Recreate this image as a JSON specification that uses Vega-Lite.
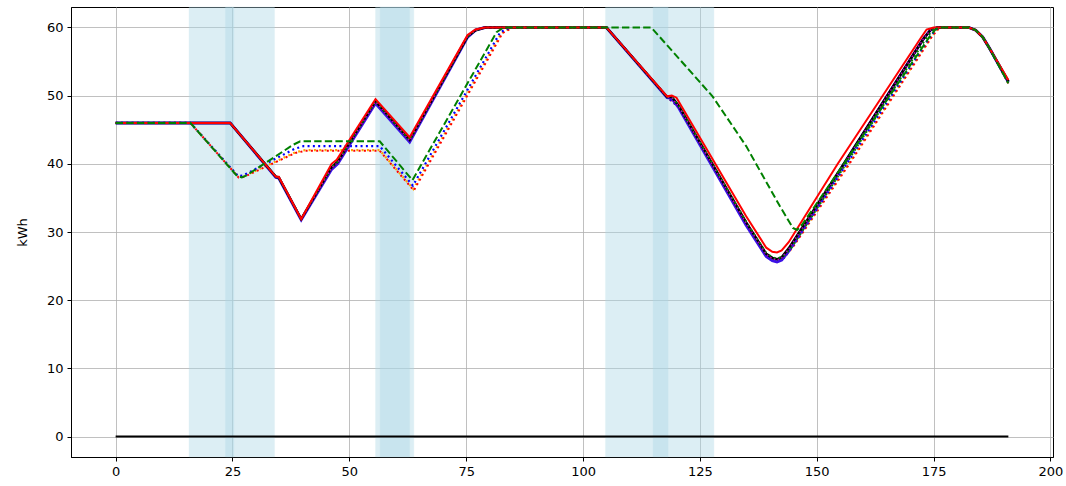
{
  "$schema": "https://vega.github.io/schema/vega-lite/v6.json",
  "width": 982,
  "height": 450,
  "autosize": {"type": "none"},
  "padding": {"left": 71, "top": 7, "right": 13, "bottom": 29},
  "background": "white",
  "datasets": {
    "spans": [
      {"x0": 15.7, "x1": 25.3},
      {"x0": 23.5, "x1": 34.0},
      {"x0": 55.6, "x1": 62.9},
      {"x0": 56.6, "x1": 63.8},
      {"x0": 104.8, "x1": 118.2},
      {"x0": 115.0, "x1": 128.0}
    ],
    "lines": [
      {"s": "zero", "x": 0, "y": 0}, {"s": "zero", "x": 191, "y": 0},

      {"s": "B_orange", "x": 0, "y": 46}, {"s": "B_orange", "x": 16, "y": 46}, {"s": "B_orange", "x": 26.3, "y": 38.1}, {"s": "B_orange", "x": 27.5, "y": 38.2}, {"s": "B_orange", "x": 38.5, "y": 41.7}, {"s": "B_orange", "x": 40.5, "y": 42.0}, {"s": "B_orange", "x": 56.5, "y": 42.0}, {"s": "B_orange", "x": 63.7, "y": 36.3}, {"s": "B_orange", "x": 82.6, "y": 59.2}, {"s": "B_orange", "x": 84.8, "y": 60}, {"s": "B_orange", "x": 105, "y": 60}, {"s": "B_orange", "x": 118, "y": 49.8}, {"s": "B_orange", "x": 120.5, "y": 48.3}, {"s": "B_orange", "x": 134.9, "y": 31.2}, {"s": "B_orange", "x": 139.2, "y": 26.6}, {"s": "B_orange", "x": 141.5, "y": 25.9}, {"s": "B_orange", "x": 143, "y": 26.2}, {"s": "B_orange", "x": 145, "y": 28.0}, {"s": "B_orange", "x": 156.8, "y": 40.0}, {"s": "B_orange", "x": 174.5, "y": 58.6}, {"s": "B_orange", "x": 175.8, "y": 59.7}, {"s": "B_orange", "x": 176.8, "y": 60}, {"s": "B_orange", "x": 182.5, "y": 60}, {"s": "B_orange", "x": 184, "y": 59.6}, {"s": "B_orange", "x": 185.5, "y": 58.6}, {"s": "B_orange", "x": 187, "y": 56.9}, {"s": "B_orange", "x": 191, "y": 51.8},

      {"s": "B_red", "x": 0, "y": 46}, {"s": "B_red", "x": 16, "y": 46}, {"s": "B_red", "x": 26.3, "y": 38.0}, {"s": "B_red", "x": 27.5, "y": 38.1}, {"s": "B_red", "x": 38.5, "y": 41.6}, {"s": "B_red", "x": 40.5, "y": 41.9}, {"s": "B_red", "x": 56.5, "y": 41.9}, {"s": "B_red", "x": 63.8, "y": 36.1}, {"s": "B_red", "x": 82.8, "y": 59.2}, {"s": "B_red", "x": 85.0, "y": 60}, {"s": "B_red", "x": 105, "y": 60}, {"s": "B_red", "x": 118, "y": 49.8}, {"s": "B_red", "x": 120.5, "y": 48.3}, {"s": "B_red", "x": 134.9, "y": 31.2}, {"s": "B_red", "x": 139.2, "y": 26.6}, {"s": "B_red", "x": 141.5, "y": 25.9}, {"s": "B_red", "x": 143, "y": 26.2}, {"s": "B_red", "x": 145, "y": 27.9}, {"s": "B_red", "x": 157.0, "y": 40.0}, {"s": "B_red", "x": 174.6, "y": 58.6}, {"s": "B_red", "x": 175.9, "y": 59.7}, {"s": "B_red", "x": 176.9, "y": 60}, {"s": "B_red", "x": 182.5, "y": 60}, {"s": "B_red", "x": 184, "y": 59.6}, {"s": "B_red", "x": 185.5, "y": 58.6}, {"s": "B_red", "x": 187, "y": 56.9}, {"s": "B_red", "x": 191, "y": 51.8},

      {"s": "B_blue", "x": 0, "y": 46}, {"s": "B_blue", "x": 16, "y": 46}, {"s": "B_blue", "x": 26.2, "y": 38.2}, {"s": "B_blue", "x": 27.3, "y": 38.3}, {"s": "B_blue", "x": 38.3, "y": 42.2}, {"s": "B_blue", "x": 40.2, "y": 42.6}, {"s": "B_blue", "x": 56.5, "y": 42.6}, {"s": "B_blue", "x": 63.6, "y": 36.8}, {"s": "B_blue", "x": 82.3, "y": 59.3}, {"s": "B_blue", "x": 84.4, "y": 60}, {"s": "B_blue", "x": 105, "y": 60}, {"s": "B_blue", "x": 118, "y": 49.8}, {"s": "B_blue", "x": 120.5, "y": 48.3}, {"s": "B_blue", "x": 134.9, "y": 31.2}, {"s": "B_blue", "x": 139.2, "y": 26.6}, {"s": "B_blue", "x": 141.5, "y": 25.9}, {"s": "B_blue", "x": 143, "y": 26.2}, {"s": "B_blue", "x": 145, "y": 28.1}, {"s": "B_blue", "x": 156.4, "y": 40.0}, {"s": "B_blue", "x": 174.2, "y": 58.6}, {"s": "B_blue", "x": 175.5, "y": 59.7}, {"s": "B_blue", "x": 176.5, "y": 60}, {"s": "B_blue", "x": 182.5, "y": 60}, {"s": "B_blue", "x": 184, "y": 59.6}, {"s": "B_blue", "x": 185.5, "y": 58.6}, {"s": "B_blue", "x": 187, "y": 56.9}, {"s": "B_blue", "x": 191, "y": 51.9},

      {"s": "A_blue", "x": 0, "y": 46}, {"s": "A_blue", "x": 24.5, "y": 46}, {"s": "A_blue", "x": 34.3, "y": 38.0}, {"s": "A_blue", "x": 34.9, "y": 37.9}, {"s": "A_blue", "x": 39.7, "y": 31.8}, {"s": "A_blue", "x": 46.2, "y": 39.2}, {"s": "A_blue", "x": 47.5, "y": 40.0}, {"s": "A_blue", "x": 55.6, "y": 48.9}, {"s": "A_blue", "x": 62.9, "y": 43.2}, {"s": "A_blue", "x": 75.3, "y": 58.6}, {"s": "A_blue", "x": 77, "y": 59.6}, {"s": "A_blue", "x": 79, "y": 60}, {"s": "A_blue", "x": 105, "y": 60}, {"s": "A_blue", "x": 118, "y": 49.7}, {"s": "A_blue", "x": 119, "y": 49.6}, {"s": "A_blue", "x": 120.5, "y": 48.2}, {"s": "A_blue", "x": 134.9, "y": 31.0}, {"s": "A_blue", "x": 139.2, "y": 26.4}, {"s": "A_blue", "x": 140.5, "y": 25.8}, {"s": "A_blue", "x": 141.5, "y": 25.6}, {"s": "A_blue", "x": 142.5, "y": 25.9}, {"s": "A_blue", "x": 144, "y": 27.2}, {"s": "A_blue", "x": 155.5, "y": 39.6}, {"s": "A_blue", "x": 172.8, "y": 58.3}, {"s": "A_blue", "x": 174.3, "y": 59.6}, {"s": "A_blue", "x": 175.8, "y": 60}, {"s": "A_blue", "x": 182.5, "y": 60}, {"s": "A_blue", "x": 184, "y": 59.6}, {"s": "A_blue", "x": 185.5, "y": 58.6}, {"s": "A_blue", "x": 187, "y": 56.9}, {"s": "A_blue", "x": 191, "y": 52.0},

      {"s": "A_black", "x": 0, "y": 46}, {"s": "A_black", "x": 24.5, "y": 46}, {"s": "A_black", "x": 34.3, "y": 38.1}, {"s": "A_black", "x": 34.9, "y": 38.0}, {"s": "A_black", "x": 39.7, "y": 31.9}, {"s": "A_black", "x": 46.2, "y": 39.5}, {"s": "A_black", "x": 47.5, "y": 40.3}, {"s": "A_black", "x": 55.6, "y": 49.2}, {"s": "A_black", "x": 62.9, "y": 43.5}, {"s": "A_black", "x": 75.3, "y": 58.7}, {"s": "A_black", "x": 77, "y": 59.6}, {"s": "A_black", "x": 79, "y": 60}, {"s": "A_black", "x": 105, "y": 60}, {"s": "A_black", "x": 118, "y": 49.8}, {"s": "A_black", "x": 119, "y": 49.8}, {"s": "A_black", "x": 120.5, "y": 48.5}, {"s": "A_black", "x": 134.9, "y": 31.4}, {"s": "A_black", "x": 139.2, "y": 26.8}, {"s": "A_black", "x": 140.5, "y": 26.2}, {"s": "A_black", "x": 141.5, "y": 26.0}, {"s": "A_black", "x": 142.5, "y": 26.3}, {"s": "A_black", "x": 144, "y": 27.6}, {"s": "A_black", "x": 155.5, "y": 39.7}, {"s": "A_black", "x": 172.8, "y": 58.3}, {"s": "A_black", "x": 174.3, "y": 59.6}, {"s": "A_black", "x": 175.8, "y": 60}, {"s": "A_black", "x": 182.5, "y": 60}, {"s": "A_black", "x": 184, "y": 59.6}, {"s": "A_black", "x": 185.5, "y": 58.6}, {"s": "A_black", "x": 187, "y": 56.9}, {"s": "A_black", "x": 191, "y": 52.1},

      {"s": "A_green", "x": 0, "y": 46}, {"s": "A_green", "x": 24.5, "y": 46}, {"s": "A_green", "x": 34.3, "y": 38.1}, {"s": "A_green", "x": 34.9, "y": 38.0}, {"s": "A_green", "x": 39.7, "y": 31.9}, {"s": "A_green", "x": 46.2, "y": 39.5}, {"s": "A_green", "x": 47.5, "y": 40.3}, {"s": "A_green", "x": 55.6, "y": 49.2}, {"s": "A_green", "x": 62.9, "y": 43.5}, {"s": "A_green", "x": 75.3, "y": 58.7}, {"s": "A_green", "x": 77, "y": 59.6}, {"s": "A_green", "x": 79, "y": 60}, {"s": "A_green", "x": 105, "y": 60}, {"s": "A_green", "x": 118, "y": 49.8}, {"s": "A_green", "x": 119, "y": 49.8}, {"s": "A_green", "x": 120.5, "y": 48.5}, {"s": "A_green", "x": 134.9, "y": 31.5}, {"s": "A_green", "x": 139.2, "y": 26.9}, {"s": "A_green", "x": 140.5, "y": 26.3}, {"s": "A_green", "x": 141.5, "y": 26.1}, {"s": "A_green", "x": 142.8, "y": 26.4}, {"s": "A_green", "x": 144.5, "y": 27.6}, {"s": "A_green", "x": 156, "y": 39.7}, {"s": "A_green", "x": 173.3, "y": 58.3}, {"s": "A_green", "x": 174.8, "y": 59.6}, {"s": "A_green", "x": 176.2, "y": 60}, {"s": "A_green", "x": 182.5, "y": 60}, {"s": "A_green", "x": 184, "y": 59.6}, {"s": "A_green", "x": 185.5, "y": 58.6}, {"s": "A_green", "x": 187, "y": 56.9}, {"s": "A_green", "x": 191, "y": 52.0},

      {"s": "A_magenta", "x": 0, "y": 46}, {"s": "A_magenta", "x": 24.5, "y": 46}, {"s": "A_magenta", "x": 34.3, "y": 38.1}, {"s": "A_magenta", "x": 34.9, "y": 38.0}, {"s": "A_magenta", "x": 39.7, "y": 31.9}, {"s": "A_magenta", "x": 46.2, "y": 39.4}, {"s": "A_magenta", "x": 47.5, "y": 40.2}, {"s": "A_magenta", "x": 55.6, "y": 49.1}, {"s": "A_magenta", "x": 62.9, "y": 43.4}, {"s": "A_magenta", "x": 75.3, "y": 58.7}, {"s": "A_magenta", "x": 77, "y": 59.6}, {"s": "A_magenta", "x": 79, "y": 60}, {"s": "A_magenta", "x": 105, "y": 60}, {"s": "A_magenta", "x": 118, "y": 49.8}, {"s": "A_magenta", "x": 119, "y": 49.7}, {"s": "A_magenta", "x": 120.5, "y": 48.4}, {"s": "A_magenta", "x": 134.9, "y": 31.3}, {"s": "A_magenta", "x": 139.2, "y": 26.7}, {"s": "A_magenta", "x": 140.5, "y": 26.1}, {"s": "A_magenta", "x": 141.5, "y": 25.9}, {"s": "A_magenta", "x": 142.5, "y": 26.2}, {"s": "A_magenta", "x": 144, "y": 27.5}, {"s": "A_magenta", "x": 155.5, "y": 39.6}, {"s": "A_magenta", "x": 172.8, "y": 58.3}, {"s": "A_magenta", "x": 174.3, "y": 59.6}, {"s": "A_magenta", "x": 175.8, "y": 60}, {"s": "A_magenta", "x": 182.5, "y": 60}, {"s": "A_magenta", "x": 184, "y": 59.6}, {"s": "A_magenta", "x": 185.5, "y": 58.6}, {"s": "A_magenta", "x": 187, "y": 56.9}, {"s": "A_magenta", "x": 191, "y": 52.1},

      {"s": "A_red", "x": 0, "y": 46}, {"s": "A_red", "x": 24.5, "y": 46}, {"s": "A_red", "x": 34.3, "y": 38.1}, {"s": "A_red", "x": 34.9, "y": 38.1}, {"s": "A_red", "x": 39.7, "y": 31.9}, {"s": "A_red", "x": 46.2, "y": 40.0}, {"s": "A_red", "x": 47.3, "y": 40.6}, {"s": "A_red", "x": 55.6, "y": 49.5}, {"s": "A_red", "x": 62.9, "y": 43.9}, {"s": "A_red", "x": 75.3, "y": 58.9}, {"s": "A_red", "x": 77, "y": 59.7}, {"s": "A_red", "x": 79, "y": 60}, {"s": "A_red", "x": 105, "y": 60}, {"s": "A_red", "x": 118, "y": 49.9}, {"s": "A_red", "x": 119, "y": 50.0}, {"s": "A_red", "x": 120, "y": 49.7}, {"s": "A_red", "x": 134.9, "y": 32.3}, {"s": "A_red", "x": 139.2, "y": 27.7}, {"s": "A_red", "x": 140.5, "y": 27.1}, {"s": "A_red", "x": 141.5, "y": 27.0}, {"s": "A_red", "x": 142.5, "y": 27.3}, {"s": "A_red", "x": 144, "y": 28.5}, {"s": "A_red", "x": 154.5, "y": 40.0}, {"s": "A_red", "x": 172.3, "y": 58.5}, {"s": "A_red", "x": 173.5, "y": 59.7}, {"s": "A_red", "x": 175, "y": 60}, {"s": "A_red", "x": 182.5, "y": 60}, {"s": "A_red", "x": 184, "y": 59.6}, {"s": "A_red", "x": 185.5, "y": 58.6}, {"s": "A_red", "x": 187, "y": 56.9}, {"s": "A_red", "x": 191, "y": 52.3},

      {"s": "B_green", "x": 0, "y": 46}, {"s": "B_green", "x": 16, "y": 46}, {"s": "B_green", "x": 26, "y": 38.2}, {"s": "B_green", "x": 27, "y": 38.0}, {"s": "B_green", "x": 28, "y": 38.3}, {"s": "B_green", "x": 38, "y": 42.8}, {"s": "B_green", "x": 39.5, "y": 43.3}, {"s": "B_green", "x": 56.5, "y": 43.3}, {"s": "B_green", "x": 63.5, "y": 37.6}, {"s": "B_green", "x": 81.5, "y": 59.3}, {"s": "B_green", "x": 83, "y": 60}, {"s": "B_green", "x": 114.6, "y": 60}, {"s": "B_green", "x": 127.7, "y": 49.9}, {"s": "B_green", "x": 134.9, "y": 42.6}, {"s": "B_green", "x": 142.1, "y": 33.8}, {"s": "B_green", "x": 144.9, "y": 30.6}, {"s": "B_green", "x": 145.8, "y": 30.3}, {"s": "B_green", "x": 147, "y": 31.2}, {"s": "B_green", "x": 156, "y": 40.2}, {"s": "B_green", "x": 174, "y": 58.5}, {"s": "B_green", "x": 175.5, "y": 59.8}, {"s": "B_green", "x": 176.5, "y": 60}, {"s": "B_green", "x": 182.5, "y": 60}, {"s": "B_green", "x": 184, "y": 59.6}, {"s": "B_green", "x": 185.5, "y": 58.6}, {"s": "B_green", "x": 187, "y": 56.9}, {"s": "B_green", "x": 191, "y": 51.8}
    ]
  },
  "layer": [
    {
      "data": {"name": "spans"},
      "mark": {"type": "rect", "fill": "#add8e6", "opacity": 0.42, "stroke": "#add8e6", "strokeWidth": 1, "strokeOpacity": 0.3},
      "encoding": {
        "x": {"field": "x0", "type": "quantitative", "scale": {"domain": [-9.55, 200.55], "nice": false, "zero": false}},
        "x2": {"field": "x1"}
      }
    },
    {
      "data": {"name": "lines"},
      "transform": [{"filter": "datum.s === 'zero'"}],
      "mark": {"type": "line", "color": "black", "strokeWidth": 2},
      "encoding": {
        "x": {"field": "x", "type": "quantitative", "scale": {"domain": [-9.55, 200.55], "nice": false, "zero": false},
              "axis": {"values": [0, 25, 50, 75, 100, 125, 150, 175, 200], "title": null, "labelFlush": false}},
        "y": {"field": "y", "type": "quantitative", "scale": {"domain": [-3, 63], "nice": false, "zero": false},
              "axis": {"values": [0, 10, 20, 30, 40, 50, 60], "title": "kWh", "titlePadding": 17}}
      }
    },
    {
      "data": {"name": "lines"},
      "transform": [{"filter": "datum.s === 'B_orange'"}],
      "mark": {"type": "line", "color": "#ffa500", "strokeWidth": 2.2, "strokeDash": [2, 3.3]},
      "encoding": {"x": {"field": "x", "type": "quantitative"}, "y": {"field": "y", "type": "quantitative"}}
    },
    {
      "data": {"name": "lines"},
      "transform": [{"filter": "datum.s === 'B_red'"}],
      "mark": {"type": "line", "color": "#ff0000", "strokeWidth": 2, "strokeDash": [2, 3.3], "strokeDashOffset": 2.5},
      "encoding": {"x": {"field": "x", "type": "quantitative"}, "y": {"field": "y", "type": "quantitative"}}
    },
    {
      "data": {"name": "lines"},
      "transform": [{"filter": "datum.s === 'B_blue'"}],
      "mark": {"type": "line", "color": "#0000ff", "strokeWidth": 2.2, "strokeDash": [2, 3.3]},
      "encoding": {"x": {"field": "x", "type": "quantitative"}, "y": {"field": "y", "type": "quantitative"}}
    },
    {
      "data": {"name": "lines"},
      "transform": [{"filter": "datum.s === 'A_blue'"}],
      "mark": {"type": "line", "color": "#3c10e6", "strokeWidth": 3},
      "encoding": {"x": {"field": "x", "type": "quantitative"}, "y": {"field": "y", "type": "quantitative"}}
    },
    {
      "data": {"name": "lines"},
      "transform": [{"filter": "datum.s === 'A_black'"}],
      "mark": {"type": "line", "color": "black", "strokeWidth": 2.5},
      "encoding": {"x": {"field": "x", "type": "quantitative"}, "y": {"field": "y", "type": "quantitative"}}
    },
    {
      "data": {"name": "lines"},
      "transform": [{"filter": "datum.s === 'A_green'"}],
      "mark": {"type": "line", "color": "#008000", "strokeWidth": 2, "strokeDash": [2, 3.3]},
      "encoding": {"x": {"field": "x", "type": "quantitative"}, "y": {"field": "y", "type": "quantitative"}}
    },
    {
      "data": {"name": "lines"},
      "transform": [{"filter": "datum.s === 'A_magenta'"}],
      "mark": {"type": "line", "color": "#bf00bf", "strokeWidth": 1.5, "strokeDash": [1.5, 2.5]},
      "encoding": {"x": {"field": "x", "type": "quantitative"}, "y": {"field": "y", "type": "quantitative"}}
    },
    {
      "data": {"name": "lines"},
      "transform": [{"filter": "datum.s === 'A_red'"}],
      "mark": {"type": "line", "color": "#ff0000", "strokeWidth": 2},
      "encoding": {"x": {"field": "x", "type": "quantitative"}, "y": {"field": "y", "type": "quantitative"}}
    },
    {
      "data": {"name": "lines"},
      "transform": [{"filter": "datum.s === 'B_green'"}],
      "mark": {"type": "line", "color": "#008000", "strokeWidth": 2, "strokeDash": [7.4, 3.2]},
      "encoding": {"x": {"field": "x", "type": "quantitative"}, "y": {"field": "y", "type": "quantitative"}}
    }
  ],
  "config": {
    "view": {"stroke": "black", "strokeWidth": 1},
    "axis": {
      "grid": true,
      "gridColor": "#b0b0b0",
      "gridWidth": 0.8,
      "domainColor": "black",
      "domainWidth": 1,
      "tickColor": "black",
      "tickSize": 4,
      "tickWidth": 1,
      "labelFont": "DejaVu Sans",
      "labelFontSize": 13,
      "labelColor": "black",
      "labelPadding": 4,
      "titleFont": "DejaVu Sans",
      "titleFontSize": 13,
      "titleFontWeight": "normal",
      "titleColor": "black"
    }
  }
}
